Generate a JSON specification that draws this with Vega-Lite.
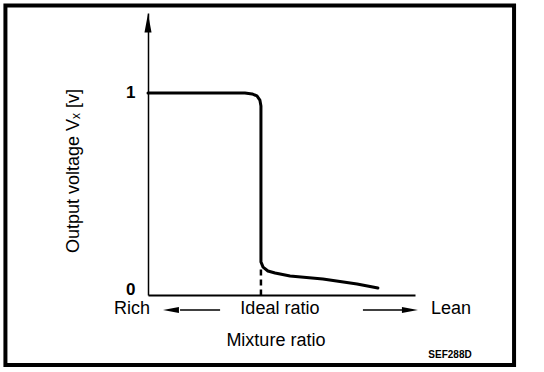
{
  "$schema": "https://vega.github.io/schema/vega-lite/v6.json",
  "autosize": "none",
  "width": 267,
  "height": 282,
  "padding": {"left": 148, "top": 13, "right": 129, "bottom": 77},
  "background": "white",
  "config": {"view": {"stroke": null}, "font": "Liberation Sans"},
  "datasets": {
    "curve": [
      {"i": 0, "ratio": 0, "volt": 1.0},
      {"i": 1, "ratio": 36.3, "volt": 1.0},
      {"i": 2, "ratio": 39.0, "volt": 0.995},
      {"i": 3, "ratio": 40.8, "volt": 0.985},
      {"i": 4, "ratio": 41.9, "volt": 0.964},
      {"i": 5, "ratio": 42.3, "volt": 0.934},
      {"i": 6, "ratio": 42.3, "volt": 0.138},
      {"i": 7, "ratio": 43.1, "volt": 0.112},
      {"i": 8, "ratio": 44.9, "volt": 0.092},
      {"i": 9, "ratio": 47.6, "volt": 0.082},
      {"i": 10, "ratio": 53.2, "volt": 0.066},
      {"i": 11, "ratio": 65.5, "volt": 0.051},
      {"i": 12, "ratio": 78.3, "volt": 0.026},
      {"i": 13, "ratio": 86.1, "volt": 0.005}
    ],
    "frame": [{"x1": -53.4, "x2": 137.1, "y1": 1.446, "y2": -0.388}],
    "ideal": [{"ratio": 42.3, "y1": 0.1, "y2": -0.0306}],
    "arrows": [
      {"x1": 12.0, "x2": 27.0, "y": -0.107},
      {"x1": 80.5, "x2": 96.0, "y": -0.107}
    ],
    "headsH": [
      {"dir": "left", "x": 8.6, "y": -0.107},
      {"dir": "right", "x": 98.1, "y": -0.107}
    ],
    "headUp": [{"x": 0, "y": 1.357}],
    "labels": [
      {"text": "Rich", "x": -6.0, "y": -0.102},
      {"text": "Ideal ratio", "x": 49.4, "y": -0.102},
      {"text": "Lean", "x": 113.5, "y": -0.102},
      {"text": "Mixture ratio", "x": 47.9, "y": -0.265}
    ],
    "code": [{"text": "SEF288D", "x": 113.1, "y": -0.337}],
    "ytitle": [{"text": "Output voltage Vₓ [v]", "x": -27.7, "y": 0.602}]
  },
  "layer": [
    {
      "data": {"name": "curve"},
      "mark": {"type": "line", "color": "black", "strokeWidth": 3, "strokeJoin": "round", "strokeCap": "round"},
      "encoding": {
        "x": {"field": "ratio", "type": "quantitative", "scale": {"domain": [0, 100], "nice": false, "zero": false},
          "axis": {"labels": false, "ticks": false, "grid": false, "title": null, "domain": true, "domainColor": "black", "domainWidth": 2}},
        "y": {"field": "volt", "type": "quantitative", "scale": {"domain": [-0.0306, 1.408], "nice": false, "zero": false},
          "axis": {"values": [0, 1], "format": "d", "ticks": false, "grid": false, "title": null, "domain": true, "domainColor": "black", "domainWidth": 1.5,
            "labelFontSize": 17, "labelFontWeight": "bold", "labelColor": "black", "labelPadding": 13}},
        "order": {"field": "i", "type": "quantitative"}
      }
    },
    {
      "data": {"name": "frame"},
      "mark": {"type": "rect", "filled": false, "stroke": "black", "strokeWidth": 4},
      "encoding": {
        "x": {"field": "x1", "type": "quantitative", "scale": {"domain": [0, 100], "nice": false, "zero": false}},
        "x2": {"field": "x2"},
        "y": {"field": "y1", "type": "quantitative", "scale": {"domain": [-0.0306, 1.408], "nice": false, "zero": false}},
        "y2": {"field": "y2"}
      }
    },
    {
      "data": {"name": "ideal"},
      "mark": {"type": "rule", "color": "black", "strokeWidth": 2.5, "strokeDash": [6, 4]},
      "encoding": {
        "x": {"field": "ratio", "type": "quantitative", "scale": {"domain": [0, 100], "nice": false, "zero": false}},
        "y": {"field": "y1", "type": "quantitative", "scale": {"domain": [-0.0306, 1.408], "nice": false, "zero": false}},
        "y2": {"field": "y2"}
      }
    },
    {
      "data": {"name": "arrows"},
      "mark": {"type": "rule", "color": "black", "strokeWidth": 1.5},
      "encoding": {
        "x": {"field": "x1", "type": "quantitative", "scale": {"domain": [0, 100], "nice": false, "zero": false}},
        "x2": {"field": "x2"},
        "y": {"field": "y", "type": "quantitative", "scale": {"domain": [-0.0306, 1.408], "nice": false, "zero": false}}
      }
    },
    {
      "data": {"name": "headsH"},
      "mark": {"type": "point", "filled": true, "color": "black", "opacity": 1, "size": 256},
      "encoding": {
        "x": {"field": "x", "type": "quantitative", "scale": {"domain": [0, 100], "nice": false, "zero": false}},
        "y": {"field": "y", "type": "quantitative", "scale": {"domain": [-0.0306, 1.408], "nice": false, "zero": false}},
        "shape": {"field": "dir", "type": "nominal", "scale": {"domain": ["left", "right"], "range": ["M -1 0 L 1 -0.38 L 1 0.38 Z", "M 1 0 L -1 -0.38 L -1 0.38 Z"]}, "legend": null}
      }
    },
    {
      "data": {"name": "headUp"},
      "mark": {"type": "point", "filled": true, "color": "black", "opacity": 1, "size": 361, "shape": "M 0 -1 L 0.37 1 L -0.37 1 Z"},
      "encoding": {
        "x": {"field": "x", "type": "quantitative", "scale": {"domain": [0, 100], "nice": false, "zero": false}},
        "y": {"field": "y", "type": "quantitative", "scale": {"domain": [-0.0306, 1.408], "nice": false, "zero": false}}
      }
    },
    {
      "data": {"name": "labels"},
      "mark": {"type": "text", "fontSize": 18, "color": "black", "align": "center", "baseline": "middle"},
      "encoding": {
        "x": {"field": "x", "type": "quantitative", "scale": {"domain": [0, 100], "nice": false, "zero": false}},
        "y": {"field": "y", "type": "quantitative", "scale": {"domain": [-0.0306, 1.408], "nice": false, "zero": false}},
        "text": {"field": "text"}
      }
    },
    {
      "data": {"name": "code"},
      "mark": {"type": "text", "fontSize": 10, "fontWeight": "bold", "color": "black", "align": "center", "baseline": "middle"},
      "encoding": {
        "x": {"field": "x", "type": "quantitative", "scale": {"domain": [0, 100], "nice": false, "zero": false}},
        "y": {"field": "y", "type": "quantitative", "scale": {"domain": [-0.0306, 1.408], "nice": false, "zero": false}},
        "text": {"field": "text"}
      }
    },
    {
      "data": {"name": "ytitle"},
      "mark": {"type": "text", "fontSize": 18, "color": "black", "align": "center", "baseline": "middle", "angle": 270},
      "encoding": {
        "x": {"field": "x", "type": "quantitative", "scale": {"domain": [0, 100], "nice": false, "zero": false}},
        "y": {"field": "y", "type": "quantitative", "scale": {"domain": [-0.0306, 1.408], "nice": false, "zero": false}},
        "text": {"field": "text"}
      }
    }
  ]
}
